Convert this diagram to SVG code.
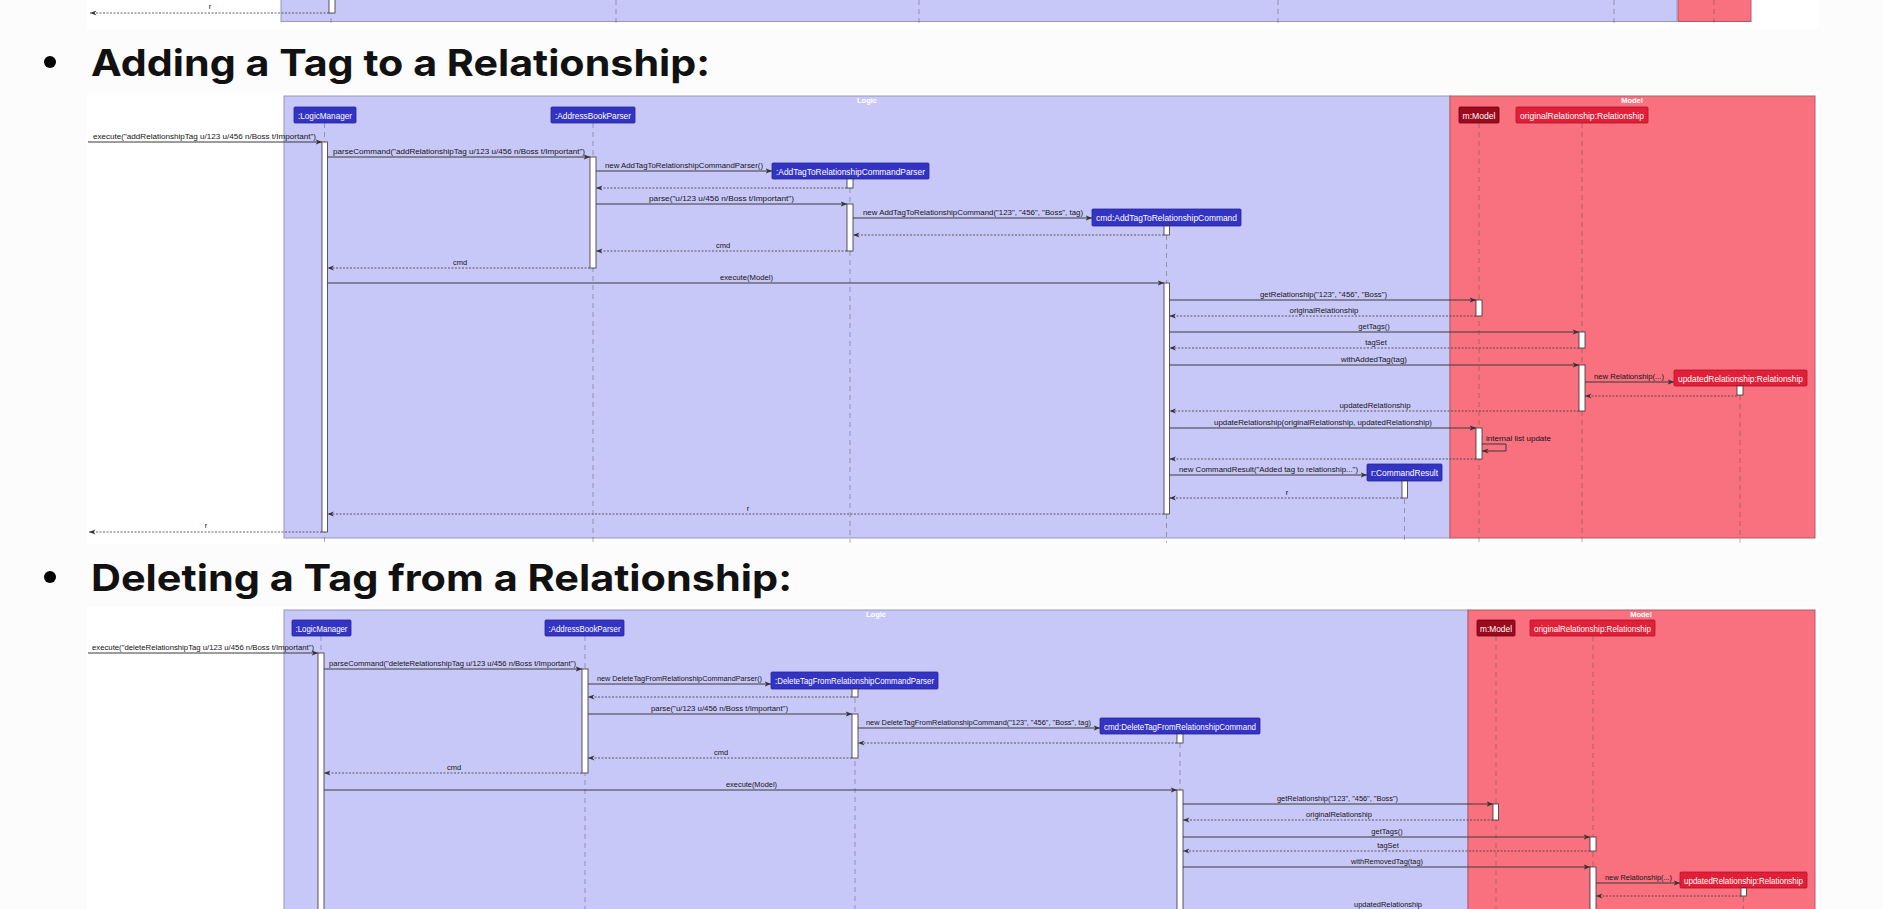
<svg xmlns="http://www.w3.org/2000/svg" width="1883" height="909" viewBox="0 0 1883 909">
<defs>
<marker id="ah" viewBox="0 0 10 8" refX="10" refY="4" markerWidth="6.5" markerHeight="5.2" markerUnits="userSpaceOnUse" orient="auto"><path d="M0,0 L10,4 L0,8 L3,4 Z" fill="#333"/></marker>
<style>
.msg{font-family:"Liberation Sans",Arial,sans-serif;font-size:7.5px;fill:#151515}
.mc{text-anchor:middle}
.pt{font-family:"Liberation Sans",Arial,sans-serif;font-size:9px;fill:#fff;text-anchor:middle}
.ft{font-family:"Liberation Sans",Arial,sans-serif;font-size:7.5px;font-weight:bold;fill:#fff;text-anchor:middle}
.hd{font-family:Inter,"Liberation Sans",sans-serif;font-size:37px;font-weight:700;fill:#111}
.ln{stroke:#3a3a3a;stroke-width:1;fill:none;marker-end:url(#ah)}
.rt{stroke:#3a3a3a;stroke-width:0.8;stroke-dasharray:2 1.5;fill:none;marker-end:url(#ah)}
.act{fill:#fff;stroke:#333;stroke-width:0.8}
.ll{stroke:#555;stroke-opacity:0.6;stroke-width:0.8;stroke-dasharray:5 4;fill:none}
.lf{fill:#C8C8F8;stroke:#9696C2;stroke-width:1}
.mf{fill:#F9717F;stroke:#B05A66;stroke-width:1}
.bb{fill:#3434C4;stroke:#24249A;stroke-width:0.8}
.mb{fill:#9C0A1E;stroke:#6E0010;stroke-width:0.8}
.rb{fill:#E21F38;stroke:#B01428;stroke-width:0.8}
.self{stroke:#3a3a3a;stroke-width:1;fill:none;marker-end:url(#ah)}
</style>
</defs>
<rect x="0" y="0" width="1883" height="909" fill="#fcfcfc"/>

<g id="prev-diagram">
<rect x="87" y="0" width="1732" height="29" fill="#fff"/>
<rect x="281" y="-2" width="1396" height="23.5" class="lf"/>
<rect x="1678" y="-2" width="73" height="23.5" class="mf"/>
<g class="ll">
<line x1="331" y1="0" x2="331" y2="27"/><line x1="616" y1="0" x2="616" y2="27"/><line x1="919" y1="0" x2="919" y2="27"/><line x1="1278" y1="0" x2="1278" y2="27"/><line x1="1614" y1="0" x2="1614" y2="27"/><line x1="1714" y1="0" x2="1714" y2="27"/>
</g>
<rect x="329" y="-2" width="6" height="15" class="act"/>
<line x1="329" y1="13" x2="90" y2="13" class="rt"/>
<text x="210" y="9" class="msg mc">r</text>
</g>

<g id="heading-add">
<circle cx="50" cy="62" r="6"/>
<text x="91" y="76" class="hd" textLength="619" lengthAdjust="spacingAndGlyphs">Adding a Tag to a Relationship:</text>
</g>

<g id="diagram-add">
<rect x="87" y="93" width="1732" height="451" fill="#fff"/>
<g id="add-frame-logic"><rect x="284" y="96" width="1166" height="442" class="lf"/><text x="867" y="103" class="ft">Logic</text></g>
<g id="add-frame-model"><rect x="1450" y="96" width="365" height="442" class="mf"/><text x="1632" y="103" class="ft">Model</text></g>

<g id="add-lifelines" class="ll">
<line x1="324.5" y1="123" x2="324.5" y2="543"/>
<line x1="593" y1="123" x2="593" y2="543"/>
<line x1="850" y1="179" x2="850" y2="543"/>
<line x1="1166.5" y1="226" x2="1166.5" y2="543"/>
<line x1="1479" y1="123" x2="1479" y2="543"/>
<line x1="1582" y1="123" x2="1582" y2="543"/>
<line x1="1740" y1="386" x2="1740" y2="543"/>
<line x1="1404.5" y1="481" x2="1404.5" y2="543"/>
</g>

<g id="add-LogicManager"><rect x="294" y="107" width="62" height="16" rx="1" class="bb"/><text x="325" y="118.5" class="pt" textLength="54" lengthAdjust="spacingAndGlyphs">:LogicManager</text></g>
<g id="add-AddressBookParser"><rect x="551" y="107" width="84" height="16" rx="1" class="bb"/><text x="593" y="118.5" class="pt" textLength="76" lengthAdjust="spacingAndGlyphs">:AddressBookParser</text></g>
<g id="add-Parser"><rect x="772" y="163" width="157" height="16" rx="1" class="bb"/><text x="850.5" y="174.5" class="pt" textLength="149" lengthAdjust="spacingAndGlyphs">:AddTagToRelationshipCommandParser</text></g>
<g id="add-cmd"><rect x="1092" y="209" width="149" height="17" rx="1" class="bb"/><text x="1166.5" y="221" class="pt" textLength="141" lengthAdjust="spacingAndGlyphs">cmd:AddTagToRelationshipCommand</text></g>
<g id="add-model"><rect x="1459" y="107" width="40" height="16" rx="1" class="mb"/><text x="1479" y="118.5" class="pt" textLength="33" lengthAdjust="spacingAndGlyphs">m:Model</text></g>
<g id="add-origRel"><rect x="1516" y="107" width="132" height="16" rx="1" class="rb"/><text x="1582" y="118.5" class="pt" textLength="124" lengthAdjust="spacingAndGlyphs">originalRelationship:Relationship</text></g>
<g id="add-updRel"><rect x="1674" y="370" width="133" height="16" rx="1" class="rb"/><text x="1740.5" y="381.5" class="pt" textLength="125" lengthAdjust="spacingAndGlyphs">updatedRelationship:Relationship</text></g>
<g id="add-CommandResult"><rect x="1367" y="464" width="75" height="17" rx="1" class="bb"/><text x="1404.5" y="476" class="pt" textLength="67" lengthAdjust="spacingAndGlyphs">r:CommandResult</text></g>

<g id="add-activations">
<rect x="322" y="142" width="5.5" height="390" class="act"/>
<rect x="590" y="157" width="6" height="111" class="act"/>
<rect x="847" y="179" width="6" height="9" class="act"/>
<rect x="847" y="204" width="6" height="47" class="act"/>
<rect x="1164" y="226" width="5.5" height="9" class="act"/>
<rect x="1164" y="283" width="5.5" height="231" class="act"/>
<rect x="1476" y="300" width="6" height="16" class="act"/>
<rect x="1579" y="332" width="6" height="16" class="act"/>
<rect x="1579" y="365" width="6" height="46" class="act"/>
<rect x="1737" y="386" width="6" height="9" class="act"/>
<rect x="1476" y="428" width="6" height="31" class="act"/>
<rect x="1402" y="481" width="5.5" height="17" class="act"/>
</g>

<g id="add-connectors">
<line x1="88" y1="142" x2="322" y2="142" class="ln"/>
<line x1="327.5" y1="157" x2="590" y2="157" class="ln"/>
<line x1="596" y1="171" x2="772" y2="171" class="ln"/>
<line x1="847" y1="188" x2="596" y2="188" class="rt"/>
<line x1="596" y1="204" x2="847" y2="204" class="ln"/>
<line x1="853" y1="218" x2="1092" y2="218" class="ln"/>
<line x1="1164" y1="235" x2="853" y2="235" class="rt"/>
<line x1="847" y1="251" x2="596" y2="251" class="rt"/>
<line x1="590" y1="268" x2="327.5" y2="268" class="rt"/>
<line x1="327.5" y1="283" x2="1164" y2="283" class="ln"/>
<line x1="1169.5" y1="300" x2="1476" y2="300" class="ln"/>
<line x1="1476" y1="316" x2="1169.5" y2="316" class="rt"/>
<line x1="1169.5" y1="332" x2="1579" y2="332" class="ln"/>
<line x1="1579" y1="348" x2="1169.5" y2="348" class="rt"/>
<line x1="1169.5" y1="365" x2="1579" y2="365" class="ln"/>
<line x1="1585" y1="382" x2="1674" y2="382" class="ln"/>
<line x1="1737" y1="396" x2="1585" y2="396" class="rt"/>
<line x1="1579" y1="411" x2="1169.5" y2="411" class="rt"/>
<line x1="1169.5" y1="428" x2="1476" y2="428" class="ln"/>
<polyline points="1482,444 1506,444 1506,451 1482,451" class="self"/>
<line x1="1476" y1="459" x2="1169.5" y2="459" class="rt"/>
<line x1="1169.5" y1="475" x2="1367" y2="475" class="ln"/>
<line x1="1402" y1="498" x2="1169.5" y2="498" class="rt"/>
<line x1="1164" y1="514" x2="327.5" y2="514" class="rt"/>
<line x1="322" y1="532" x2="89" y2="532" class="rt"/>
</g>

<g id="add-labels">
<text x="93" y="139" class="msg" textLength="223" lengthAdjust="spacingAndGlyphs">execute("addRelationshipTag u/123 u/456 n/Boss t/Important")</text>
<text x="333" y="154" class="msg" textLength="252" lengthAdjust="spacingAndGlyphs">parseCommand("addRelationshipTag u/123 u/456 n/Boss t/Important")</text>
<text x="605" y="168" class="msg" textLength="158" lengthAdjust="spacingAndGlyphs">new AddTagToRelationshipCommandParser()</text>
<text x="649" y="201" class="msg" textLength="145" lengthAdjust="spacingAndGlyphs">parse("u/123 u/456 n/Boss t/Important")</text>
<text x="863" y="215" class="msg" textLength="220" lengthAdjust="spacingAndGlyphs">new AddTagToRelationshipCommand("123", "456", "Boss", tag)</text>
<text x="723" y="248" class="msg mc">cmd</text>
<text x="460" y="265" class="msg mc">cmd</text>
<text x="720" y="280" class="msg" textLength="53" lengthAdjust="spacingAndGlyphs">execute(Model)</text>
<text x="1260" y="297" class="msg" textLength="127" lengthAdjust="spacingAndGlyphs">getRelationship("123", "456", "Boss")</text>
<text x="1324" y="313" class="msg mc" textLength="69" lengthAdjust="spacingAndGlyphs">originalRelationship</text>
<text x="1374" y="329" class="msg mc">getTags()</text>
<text x="1376" y="345" class="msg mc">tagSet</text>
<text x="1374" y="362" class="msg mc" textLength="66" lengthAdjust="spacingAndGlyphs">withAddedTag(tag)</text>
<text x="1594" y="379" class="msg" textLength="70" lengthAdjust="spacingAndGlyphs">new Relationship(...)</text>
<text x="1375" y="408" class="msg mc" textLength="71" lengthAdjust="spacingAndGlyphs">updatedRelationship</text>
<text x="1214" y="425" class="msg" textLength="218" lengthAdjust="spacingAndGlyphs">updateRelationship(originalRelationship, updatedRelationship)</text>
<text x="1486" y="441" class="msg" textLength="65" lengthAdjust="spacingAndGlyphs">internal list update</text>
<text x="1179" y="472" class="msg" textLength="179" lengthAdjust="spacingAndGlyphs">new CommandResult("Added tag to relationship...")</text>
<text x="1287" y="495" class="msg mc">r</text>
<text x="748" y="511" class="msg mc">r</text>
<text x="206" y="528" class="msg mc">r</text>
</g>
</g>

<g id="heading-delete">
<circle cx="50" cy="577" r="6"/>
<text x="91" y="591" class="hd" textLength="701" lengthAdjust="spacingAndGlyphs">Deleting a Tag from a Relationship:</text>
</g>

<g id="diagram-delete">
<rect x="87" y="607" width="1732" height="310" fill="#fff"/>
<g id="del-frame-logic"><rect x="284" y="610" width="1184" height="310" class="lf"/><text x="876" y="617" class="ft">Logic</text></g>
<g id="del-frame-model"><rect x="1468" y="610" width="347" height="310" class="mf"/><text x="1641" y="617" class="ft">Model</text></g>

<g id="del-lifelines" class="ll">
<line x1="321" y1="636" x2="321" y2="915"/>
<line x1="585" y1="636" x2="585" y2="915"/>
<line x1="855" y1="689" x2="855" y2="915"/>
<line x1="1180" y1="734" x2="1180" y2="915"/>
<line x1="1496" y1="636" x2="1496" y2="915"/>
<line x1="1593" y1="636" x2="1593" y2="915"/>
<line x1="1743.5" y1="888" x2="1743.5" y2="915"/>
</g>

<g id="del-LogicManager"><rect x="292" y="620" width="59" height="16" rx="1" class="bb"/><text x="321.5" y="631.5" class="pt" textLength="52" lengthAdjust="spacingAndGlyphs">:LogicManager</text></g>
<g id="del-AddressBookParser"><rect x="545" y="620" width="79" height="16" rx="1" class="bb"/><text x="584.5" y="631.5" class="pt" textLength="72" lengthAdjust="spacingAndGlyphs">:AddressBookParser</text></g>
<g id="del-Parser"><rect x="771" y="672" width="167" height="17" rx="1" class="bb"/><text x="854.5" y="684" class="pt" textLength="159" lengthAdjust="spacingAndGlyphs">:DeleteTagFromRelationshipCommandParser</text></g>
<g id="del-cmd"><rect x="1100" y="718" width="160" height="16" rx="1" class="bb"/><text x="1180" y="729.5" class="pt" textLength="152" lengthAdjust="spacingAndGlyphs">cmd:DeleteTagFromRelationshipCommand</text></g>
<g id="del-model"><rect x="1477" y="620" width="38" height="16" rx="1" class="mb"/><text x="1496" y="631.5" class="pt" textLength="32" lengthAdjust="spacingAndGlyphs">m:Model</text></g>
<g id="del-origRel"><rect x="1530" y="620" width="125" height="16" rx="1" class="rb"/><text x="1592.5" y="631.5" class="pt" textLength="117" lengthAdjust="spacingAndGlyphs">originalRelationship:Relationship</text></g>
<g id="del-updRel"><rect x="1680" y="872" width="127" height="16" rx="1" class="rb"/><text x="1743.5" y="883.5" class="pt" textLength="119" lengthAdjust="spacingAndGlyphs">updatedRelationship:Relationship</text></g>

<g id="del-activations">
<rect x="318" y="653" width="6" height="265" class="act"/>
<rect x="582" y="669" width="6" height="104" class="act"/>
<rect x="852" y="689" width="6" height="8" class="act"/>
<rect x="852" y="714" width="6" height="44" class="act"/>
<rect x="1177" y="734" width="6" height="9" class="act"/>
<rect x="1177" y="790" width="6" height="128" class="act"/>
<rect x="1493" y="804" width="5.5" height="16" class="act"/>
<rect x="1590" y="837" width="6" height="14" class="act"/>
<rect x="1590" y="867" width="6" height="51" class="act"/>
<rect x="1741" y="888" width="5.5" height="8" class="act"/>
</g>

<g id="del-connectors">
<line x1="88" y1="653" x2="318" y2="653" class="ln"/>
<line x1="324" y1="669" x2="582" y2="669" class="ln"/>
<line x1="588" y1="684" x2="771" y2="684" class="ln"/>
<line x1="852" y1="697" x2="588" y2="697" class="rt"/>
<line x1="588" y1="714" x2="852" y2="714" class="ln"/>
<line x1="858" y1="728" x2="1100" y2="728" class="ln"/>
<line x1="1177" y1="743" x2="858" y2="743" class="rt"/>
<line x1="852" y1="758" x2="588" y2="758" class="rt"/>
<line x1="582" y1="773" x2="324" y2="773" class="rt"/>
<line x1="324" y1="790" x2="1177" y2="790" class="ln"/>
<line x1="1183" y1="804" x2="1493" y2="804" class="ln"/>
<line x1="1493" y1="820" x2="1183" y2="820" class="rt"/>
<line x1="1183" y1="837" x2="1590" y2="837" class="ln"/>
<line x1="1590" y1="851" x2="1183" y2="851" class="rt"/>
<line x1="1183" y1="867" x2="1590" y2="867" class="ln"/>
<line x1="1596" y1="883" x2="1680" y2="883" class="ln"/>
<line x1="1741" y1="896" x2="1596" y2="896" class="rt"/>
</g>

<g id="del-labels">
<text x="92" y="650" class="msg" textLength="222" lengthAdjust="spacingAndGlyphs">execute("deleteRelationshipTag u/123 u/456 n/Boss t/Important")</text>
<text x="329" y="666" class="msg" textLength="247" lengthAdjust="spacingAndGlyphs">parseCommand("deleteRelationshipTag u/123 u/456 n/Boss t/Important")</text>
<text x="597" y="681" class="msg" textLength="165" lengthAdjust="spacingAndGlyphs">new DeleteTagFromRelationshipCommandParser()</text>
<text x="651" y="711" class="msg" textLength="137" lengthAdjust="spacingAndGlyphs">parse("u/123 u/456 n/Boss t/Important")</text>
<text x="866" y="725" class="msg" textLength="225" lengthAdjust="spacingAndGlyphs">new DeleteTagFromRelationshipCommand("123", "456", "Boss", tag)</text>
<text x="721" y="755" class="msg mc">cmd</text>
<text x="454" y="770" class="msg mc">cmd</text>
<text x="726" y="787" class="msg" textLength="51" lengthAdjust="spacingAndGlyphs">execute(Model)</text>
<text x="1277" y="801" class="msg" textLength="121" lengthAdjust="spacingAndGlyphs">getRelationship("123", "456", "Boss")</text>
<text x="1339" y="817" class="msg mc" textLength="66" lengthAdjust="spacingAndGlyphs">originalRelationship</text>
<text x="1387" y="834" class="msg mc">getTags()</text>
<text x="1388" y="848" class="msg mc">tagSet</text>
<text x="1351" y="864" class="msg" textLength="72" lengthAdjust="spacingAndGlyphs">withRemovedTag(tag)</text>
<text x="1605" y="880" class="msg" textLength="67" lengthAdjust="spacingAndGlyphs">new Relationship(...)</text>
<text x="1388" y="906.5" class="msg mc" textLength="68" lengthAdjust="spacingAndGlyphs">updatedRelationship</text>
</g>
</g>
</svg>
